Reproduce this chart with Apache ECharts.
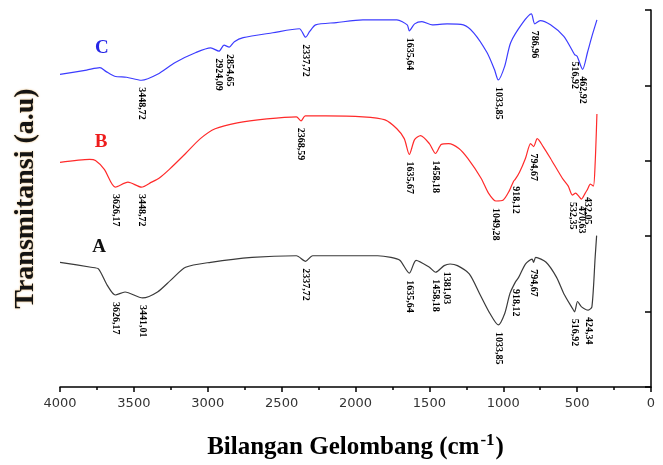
<!DOCTYPE html>
<html>
<head>
<meta charset="utf-8">
<script src="https://cdn.jsdelivr.net/npm/echarts@6/dist/echarts.min.js"></script>
<style>
  html, body { margin: 0; padding: 0; background: #fff; }
  #main { width: 663px; height: 465px; }
</style>
</head>
<body>
<div id="main"></div>
<script>
// FTIR spectra: [wavenumber (cm-1), transmittance (a.u.)]
const specC = [
  [4000, 4.147], [3820, 4.203], [3730, 4.235], [3690, 4.186], [3630, 4.121],
  [3550, 4.108], [3448.72, 4.068], [3340, 4.147], [3220, 4.304], [3080, 4.436],
  [2980, 4.497], [2924.09, 4.454], [2890, 4.534], [2854.65, 4.508], [2820, 4.58],
  [2760, 4.633], [2560, 4.698], [2380, 4.751], [2337.72, 4.639], [2310, 4.715],
  [2270, 4.803], [2130, 4.833], [1950, 4.869], [1720, 4.869], [1650, 4.803],
  [1635.64, 4.724], [1600, 4.816], [1550, 4.846], [1480, 4.803], [1380, 4.816],
  [1270, 4.803], [1200, 4.698], [1110, 4.436], [1060, 4.213], [1033.85, 4.072],
  [990, 4.256], [950, 4.567], [870, 4.825], [810, 4.948], [786.96, 4.816],
  [750, 4.86], [680, 4.803], [590, 4.65], [530, 4.453], [516.92, 4.409],
  [500, 4.387], [462.92, 4.213], [430, 4.436], [400, 4.65], [366, 4.869]
];
const specB = [
  [4000, 2.979], [3800, 3.018], [3760, 3.005], [3700, 2.887], [3626.17, 2.651],
  [3540, 2.717], [3448.72, 2.651], [3380, 2.717], [3330, 2.769], [3260, 2.887],
  [3150, 3.097], [3050, 3.294], [2950, 3.425], [2800, 3.504], [2600, 3.556],
  [2400, 3.583], [2368.59, 3.53], [2340, 3.596], [2200, 3.596], [1950, 3.583],
  [1800, 3.543], [1720, 3.425], [1670, 3.294], [1635.67, 3.084], [1600, 3.281],
  [1560, 3.333], [1500, 3.228], [1458.18, 3.097], [1420, 3.215], [1370, 3.228],
  [1300, 3.163], [1240, 3.031], [1150, 2.769], [1100, 2.572], [1049.28, 2.467],
  [1000, 2.48], [960, 2.598], [930, 2.73], [918.12, 2.756], [890, 2.848],
  [850, 3.031], [815, 3.228], [794.67, 3.189], [770, 3.294], [730, 3.189],
  [680, 3.031], [600, 2.769], [560, 2.664], [532.35, 2.546], [510, 2.572],
  [490, 2.533], [470.63, 2.493], [445, 2.572], [432.05, 2.612], [410, 2.69],
  [390, 2.664], [378, 2.966], [366, 3.622]
];
const specA = [
  [4000, 1.654], [3790, 1.588], [3740, 1.566], [3680, 1.348], [3626.17, 1.22],
  [3560, 1.26], [3441.01, 1.181], [3340, 1.26], [3250, 1.417], [3150, 1.588],
  [2980, 1.654], [2700, 1.719], [2400, 1.741], [2337.72, 1.667], [2290, 1.741],
  [1850, 1.741], [1760, 1.719], [1700, 1.68], [1635.64, 1.509], [1590, 1.68],
  [1500, 1.588], [1458.18, 1.522], [1400, 1.61], [1360, 1.631], [1310, 1.61],
  [1230, 1.5], [1160, 1.238], [1090, 0.975], [1033.85, 0.823], [990, 0.975],
  [955, 1.238], [918.12, 1.391], [895, 1.457], [850, 1.631], [805, 1.697],
  [794.67, 1.654], [780, 1.719], [710, 1.654], [640, 1.457], [590, 1.238],
  [530, 1.037], [516.92, 0.997], [497, 1.134], [470, 1.063], [424.34, 1.02],
  [400, 1.063], [378, 1.719], [368, 2.008]
];

// labelled band positions (cm-1)
const peaksC = [3448.72, 2924.09, 2854.65, 2337.72, 1635.64, 1033.85, 786.96, 516.92, 462.92];
const peaksB = [3626.17, 3448.72, 2368.59, 1635.67, 1458.18, 1049.28, 918.12, 794.67, 532.35, 470.63, 432.05];
const peaksA = [3626.17, 3441.01, 2337.72, 1635.64, 1458.18, 1381.03, 1033.85, 918.12, 794.67, 516.92, 424.34];

const sampleNames = ['A', 'B', 'C'];

function valueAt(spec, wn) {
  for (let i = 0; i < spec.length - 1; i++) {
    const a = spec[i], b = spec[i + 1];
    if (wn <= a[0] && wn >= b[0]) {
      const t = (a[0] - wn) / (a[0] - b[0]);
      return a[1] + t * (b[1] - a[1]);
    }
  }
  return spec[spec.length - 1][1];
}

function fmt(wn) {
  return wn.toFixed(2).replace('.', ',');
}

function lineSeries(name, spec, color) {
  return {
    name: name,
    type: 'line',
    data: spec,
    showSymbol: false,
    silent: true,
    smooth: 0.25,
    lineStyle: { color: color, width: 1.2 },
    z: 2
  };
}

// rotated peak labels hanging just below the band
function peakSeries(spec, peaks) {
  return {
    type: 'custom',
    silent: true,
    data: peaks.map((p) => [p, valueAt(spec, p)]),
    renderItem: function (params, api) {
      const pt = api.coord([api.value(0), api.value(1)]);
      return {
        type: 'text',
        x: pt[0],
        y: pt[1] + 7,
        rotation: -Math.PI / 2,
        style: {
          text: fmt(peaks[params.dataIndex]),
          fill: '#000',
          font: 'bold 10px "Liberation Serif", serif',
          align: 'left',
          verticalAlign: 'middle'
        }
      };
    },
    z: 3
  };
}

const tagColors = ['#111111', '#ee1c1c', '#2626e6'];
const tagAnchors = [[3736, 1.85], [3722, 3.25], [3716, 4.49]];

const myChart = echarts.init(document.getElementById('main'));

myChart.setOption({
  animation: false,
  backgroundColor: '#fff',
  grid: { left: 60, right: 12, top: 10, bottom: 74 },
  xAxis: {
    type: 'value',
    min: 0,
    max: 4000,
    interval: 500,
    inverse: true,
    name: '{t|Bilangan Gelombang (cm}{s|-1}{t|)}',
    nameLocation: 'middle',
    nameGap: 45,
    nameTextStyle: {
      rich: {
        t: { fontFamily: '"Liberation Serif", serif', fontWeight: 'bold', fontSize: 25, color: '#000' },
        s: { fontFamily: '"Liberation Serif", serif', fontWeight: 'bold', fontSize: 17, color: '#000', padding: [0, 1, 14, 1] }
      }
    },
    axisLine: { lineStyle: { color: '#000', width: 1.5 } },
    axisTick: { inside: false, length: 5, lineStyle: { color: '#000', width: 1.5 } },
    minorTick: { show: true, splitNumber: 2, length: 3, lineStyle: { color: '#000', width: 1.5 } },
    axisLabel: {
      color: '#333',
      fontSize: 13,
      fontFamily: '"DejaVu Sans", sans-serif',
      margin: 10,
      formatter: (v) => String(v)
    },
    splitLine: { show: false }
  },
  yAxis: {
    type: 'value',
    min: 0,
    max: 5,
    interval: 1,
    name: 'Transmitansi (a.u)',
    nameLocation: 'middle',
    nameGap: 20,
    nameTextStyle: {
      fontFamily: '"Liberation Serif", serif',
      fontWeight: 'bold',
      fontSize: 28,
      color: '#141414',
      textShadowColor: 'rgba(214,140,30,0.7)',
      textShadowBlur: 2
    },
    axisLine: { show: true, lineStyle: { color: '#000', width: 1.5 } },
    axisTick: { show: true, inside: false, length: 6, lineStyle: { color: '#000', width: 1.5 } },
    axisLabel: { show: false },
    splitLine: { show: false }
  },
  series: [
    lineSeries('C', specC, '#3c3cff'),
    lineSeries('B', specB, '#ff2a2a'),
    lineSeries('A', specA, '#3a3a3a'),
    peakSeries(specC, peaksC),
    peakSeries(specB, peaksB),
    peakSeries(specA, peaksA),
    {
      type: 'custom',
      silent: true,
      data: tagAnchors,
      renderItem: function (params, api) {
        const pt = api.coord([api.value(0), api.value(1)]);
        return {
          type: 'text',
          x: pt[0],
          y: pt[1],
          style: {
            text: sampleNames[params.dataIndex],
            fill: tagColors[params.dataIndex],
            font: 'bold 19px "Liberation Serif", serif',
            align: 'center',
            verticalAlign: 'middle'
          }
        };
      },
      z: 3
    }
  ]
});

window.addEventListener('resize', function () {
  myChart.resize();
});
</script>
</body>
</html>
